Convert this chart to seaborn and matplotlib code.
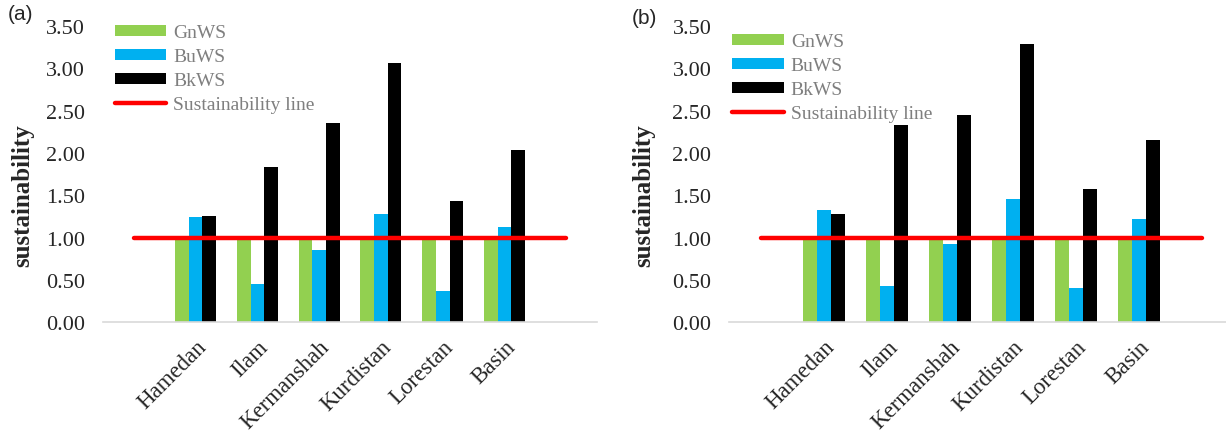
import numpy as np
import pandas as pd
import matplotlib
matplotlib.use("Agg")
import matplotlib.pyplot as plt
import seaborn as sns

# categories (Excel chart has an empty slot at each end)
regions = ["", "Hamedan", "Ilam", "Kermanshah", "Kurdistan", "Lorestan", "Basin", " "]
sites = ["Hamedan", "Ilam", "Kermanshah", "Kurdistan", "Lorestan", "Basin"]
series = ["GnWS", "BuWS", "BkWS"]

# panel (a)
gn_a = [1.00, 1.00, 1.00, 1.00, 1.00, 1.00]
bu_a = [1.24, 0.45, 0.85, 1.28, 0.37, 1.13]
bk_a = [1.26, 1.83, 2.35, 3.06, 1.43, 2.03]

# panel (b)
gn_b = [1.00, 1.00, 1.00, 1.00, 1.00, 1.00]
bu_b = [1.32, 0.43, 0.92, 1.45, 0.40, 1.22]
bk_b = [1.28, 2.33, 2.45, 3.29, 1.57, 2.15]

# sustainability line, one value per category slot
line_vals = [1, 1, 1, 1, 1, 1, 1, 1]

colors = {"GnWS": "#92d050", "BuWS": "#00b0f0", "BkWS": "#000000"}

sns.set_style("white")
plt.rcParams["font.family"] = ["Liberation Serif", "DejaVu Serif"]


def make_df(gn, bu, bk):
    rows = []
    for name, vals in zip(series, [gn, bu, bk]):
        for s, v in zip(sites, vals):
            rows.append({"region": s, "series": name, "value": v})
    return pd.DataFrame(rows)


def draw(ax, df, ticks_on, leg_anchor, ylab_x):
    sns.barplot(data=df, x="region", y="value", hue="series", order=regions,
                hue_order=series, palette=colors, width=0.665, ax=ax,
                saturation=1, errorbar=None, linewidth=0, edgecolor="none")
    sns.lineplot(x=np.arange(len(regions)), y=line_vals, color="#ff0000",
                 lw=3.2, ax=ax, label="Sustainability line")
    ax.set_ylim(0, 3.5)
    ax.set_yticks(np.arange(0, 3.51, 0.5))
    ax.set_yticklabels(["%.2f" % v for v in np.arange(0, 3.51, 0.5)], fontsize=16)
    ax.tick_params(axis="y", length=0, pad=13)
    ax.set_xticks(range(1, 7))
    ax.set_xticklabels(sites, rotation=45, ha="right", rotation_mode="anchor",
                       fontsize=16.5)
    ax.tick_params(axis="x", which="major", length=0, pad=10)
    if ticks_on:
        ax.set_xticks(np.arange(-0.5, 8, 1.0), minor=True)
        ax.tick_params(axis="x", which="minor", length=5, width=1, color="#d9d9d9",
                       direction="out")
    ax.set_xlabel("")
    ax.set_ylabel("sustainability", fontsize=18, fontweight="bold")
    ax.yaxis.set_label_coords(ylab_x, 0.43)
    for sp in ["top", "right", "left"]:
        ax.spines[sp].set_visible(False)
    ax.spines["bottom"].set_color("#d9d9d9")
    ax.spines["bottom"].set_linewidth(1.2)

    handles, labels = ax.get_legend_handles_labels()
    leg = ax.legend(handles, labels, loc="upper left", bbox_to_anchor=leg_anchor,
                    frameon=False, fontsize=14, handlelength=2.65,
                    handleheight=0.45, handletextpad=0.35, labelspacing=0.36,
                    borderaxespad=0, borderpad=0)
    for t in leg.get_texts():
        t.set_color("#7f7f7f")


fig = plt.figure(figsize=(12.26, 4.35), dpi=100)
ax1 = fig.add_axes([0.084, 0.257, 0.403, 0.681])
ax2 = fig.add_axes([0.595, 0.257, 0.405, 0.681])

draw(ax1, make_df(gn_a, bu_a, bk_a), True, (0.024, 1.005), -0.14)
ax1.set_xlim(-0.5, 7.5)

draw(ax2, make_df(gn_b, bu_b, bk_b), False, (0.006, 0.975), -0.15)
ax2.set_xlim(-0.5, 7.38)

fig.text(0.006, 0.955, "(a)", fontsize=15, family=["Liberation Sans", "DejaVu Sans"])
fig.text(0.515, 0.945, "(b)", fontsize=15, family=["Liberation Sans", "DejaVu Sans"])

fig.savefig("out.png", dpi=100)
